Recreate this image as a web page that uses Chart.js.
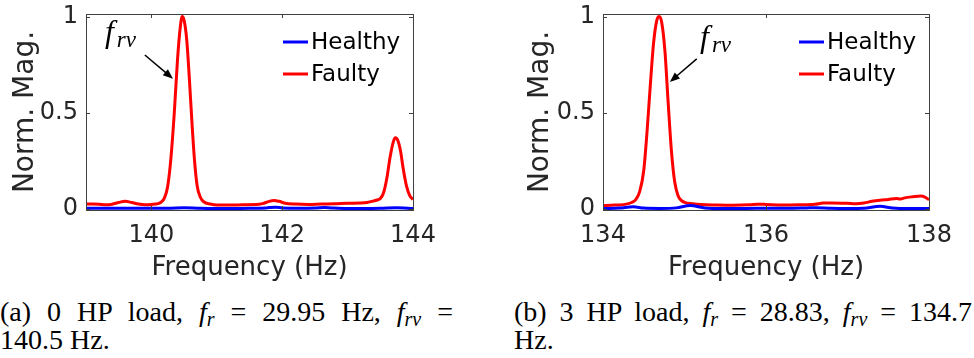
<!DOCTYPE html>
<html lang="en">
<head>
    <meta charset="UTF-8">
    <title>Rotor Vibration Spectra</title>
    <script src="https://cdn.jsdelivr.net/npm/chart.js@4.4.0/dist/chart.umd.min.js"></script>
    <style>
        body { margin: 0; background: #fff; width: 974px; height: 358px; position: relative; overflow: hidden; }
        canvas { position: absolute; top: 0; }
        #chartA { left: 0; }
        #chartB { left: 515px; }
        .caption { position: absolute; top: 298px; font-family: 'Liberation Serif', serif; font-size: 28px; line-height: 28px; color: #000; }
        .caption .first { text-align: justify; text-align-last: justify; }
        .caption sub { font-size: 20px; vertical-align: -5px; line-height: 0; }
        #capA { left: 0; width: 453px; }
        #capB { left: 514px; width: 458px; }
    </style>
</head>
<body>
    <canvas id="chartA" width="450" height="290"></canvas>
    <canvas id="chartB" width="459" height="290"></canvas>

    <div class="caption" id="capA">
        <div class="first">(a) 0 HP load, <i>f</i><sub><i>r</i></sub> = 29.95 Hz, <i>f</i><sub><i>rv</i></sub> =</div>
        <div>140.5 Hz.</div>
    </div>
    <div class="caption" id="capB">
        <div class="first">(b) 3 HP load, <i>f</i><sub><i>r</i></sub> = 28.83, <i>f</i><sub><i>rv</i></sub> = 134.7</div>
        <div>Hz.</div>
    </div>

    <script>
        // (a) 0 HP load
        var freqA = [139.00, 139.10, 139.20, 139.30, 139.40, 139.50, 139.60, 139.70, 139.80, 139.90,
            140.00, 140.10, 140.15, 140.20, 140.25, 140.30, 140.35, 140.40, 140.44, 140.47,
            140.50, 140.54, 140.58, 140.62, 140.66, 140.70, 140.75, 140.80, 140.90, 141.00,
            141.20, 141.40, 141.60, 141.70, 141.80, 141.88, 141.95, 142.05, 142.20, 142.40,
            142.60, 142.80, 143.00, 143.20, 143.30, 143.40, 143.45, 143.50, 143.55, 143.60,
            143.65, 143.70, 143.73, 143.77, 143.81, 143.85, 143.90, 143.95, 144.00];
        var faultyA = [0.026, 0.026, 0.025, 0.022, 0.025, 0.034, 0.040, 0.034, 0.026, 0.022,
            0.024, 0.028, 0.036, 0.058, 0.12, 0.27, 0.50, 0.78, 0.94, 1.00,
            0.98, 0.88, 0.68, 0.45, 0.25, 0.12, 0.06, 0.038, 0.026, 0.021,
            0.021, 0.022, 0.023, 0.028, 0.040, 0.044, 0.040, 0.030, 0.026, 0.024,
            0.026, 0.027, 0.030, 0.031, 0.034, 0.042, 0.047, 0.055, 0.085, 0.16,
            0.27, 0.35, 0.37, 0.355, 0.30, 0.21, 0.12, 0.07, 0.05];
        var healthyFreqA = [139.00, 139.25, 139.50, 139.75, 140.00, 140.25, 140.50, 140.75, 141.00, 141.25,
            141.50, 141.75, 141.90, 142.00, 142.25, 142.50, 142.65, 142.75, 143.00, 143.25,
            143.50, 143.75, 144.00];
        var healthyA = [0.004, 0.004, 0.004, 0.004, 0.004, 0.004, 0.007, 0.004, 0.003, 0.003,
            0.004, 0.006, 0.009, 0.006, 0.004, 0.005, 0.008, 0.006, 0.003, 0.003,
            0.004, 0.007, 0.003];
        var xTicksA = [140, 142, 144];

        // (b) 3 HP load
        var freqB = [134.00, 134.10, 134.20, 134.30, 134.35, 134.40, 134.45, 134.50, 134.54, 134.58,
            134.62, 134.66, 134.69, 134.72, 134.76, 134.80, 134.84, 134.88, 134.92, 134.96,
            135.00, 135.10, 135.20, 135.40, 135.60, 135.80, 135.90, 136.00, 136.20, 136.40,
            136.60, 136.70, 136.80, 137.00, 137.10, 137.20, 137.30, 137.40, 137.50, 137.60,
            137.65, 137.70, 137.80, 137.90, 137.95, 138.00];
        var faultyB = [0.017, 0.020, 0.021, 0.027, 0.034, 0.048, 0.09, 0.20, 0.40, 0.64,
            0.86, 0.98, 1.00, 0.97, 0.82, 0.55, 0.30, 0.14, 0.07, 0.045,
            0.035, 0.027, 0.023, 0.021, 0.020, 0.022, 0.025, 0.024, 0.021, 0.022,
            0.025, 0.031, 0.032, 0.030, 0.028, 0.031, 0.040, 0.046, 0.050, 0.055,
            0.052, 0.058, 0.064, 0.068, 0.062, 0.048];
        var healthyFreqB = [134.00, 134.20, 134.37, 134.50, 134.70, 134.90, 135.07, 135.25, 135.50, 135.75,
            136.00, 136.25, 136.50, 136.60, 136.80, 137.00, 137.20, 137.40, 137.55, 137.75,
            138.00];
        var healthyB = [0.003, 0.005, 0.012, 0.005, 0.003, 0.006, 0.018, 0.006, 0.003, 0.003,
            0.004, 0.004, 0.006, 0.007, 0.004, 0.003, 0.004, 0.014, 0.006, 0.003,
            0.003];
        var xTicksB = [134, 136, 138];

        var yTicks = [0, 0.5, 1];
        var seriesNames = ['Healthy', 'Faulty'];
        var seriesColors = ['#0000ff', '#ff0000'];

        function toPoints(xs, ys) {
            return xs.map(function (x, i) { return { x: x, y: ys[i] }; });
        }

        // box, inward ticks, legend and the f_rv arrow
        var decorations = {
            id: 'decorations',
            afterDraw: function (chart, args, opts) {
                var ctx = chart.ctx;
                var a = chart.chartArea;
                var xs = chart.scales.x, ys = chart.scales.y;
                ctx.save();

                ctx.strokeStyle = '#404040';
                ctx.lineWidth = 1;
                ctx.strokeRect(Math.round(a.left) + 0.5, Math.round(a.top) + 0.5,
                    Math.round(a.right - a.left), Math.round(a.bottom - a.top));

                ctx.beginPath();
                xs.ticks.forEach(function (t) {
                    var px = Math.round(xs.getPixelForValue(t.value)) + 0.5;
                    ctx.moveTo(px, a.bottom); ctx.lineTo(px, a.bottom - 4);
                    ctx.moveTo(px, a.top); ctx.lineTo(px, a.top + 4);
                });
                ys.ticks.forEach(function (t) {
                    var py = Math.round(ys.getPixelForValue(t.value)) + 0.5;
                    ctx.moveTo(a.left, py); ctx.lineTo(a.left + 4, py);
                    ctx.moveTo(a.right, py); ctx.lineTo(a.right - 4, py);
                });
                ctx.stroke();

                // legend inside the axes, top right
                ctx.font = '23px "DejaVu Sans"';
                ctx.textBaseline = 'middle';
                ctx.textAlign = 'left';
                chart.data.datasets.forEach(function (ds, i) {
                    var y = a.top + 28 + i * 32;
                    var x0 = a.right - 130;
                    ctx.strokeStyle = ds.borderColor;
                    ctx.lineWidth = 3;
                    ctx.beginPath();
                    ctx.moveTo(x0, y); ctx.lineTo(x0 + 25, y);
                    ctx.stroke();
                    ctx.fillStyle = '#000';
                    ctx.fillText(ds.label, x0 + 28, y + 1);
                });

                // f_rv label and arrow
                var n = opts.note;
                var lx = xs.getPixelForValue(n.label[0]), ly = ys.getPixelForValue(n.label[1]);
                ctx.fillStyle = '#000';
                ctx.textBaseline = 'alphabetic';
                ctx.font = 'italic 32px "Liberation Serif"';
                ctx.fillText('f', lx, ly);
                var fw = ctx.measureText('f').width;
                ctx.font = 'italic 23px "Liberation Serif"';
                ctx.fillText('rv', lx + fw + 3, ly + 5);

                var tx = xs.getPixelForValue(n.tail[0]), ty = ys.getPixelForValue(n.tail[1]);
                var hx = xs.getPixelForValue(n.head[0]), hy = ys.getPixelForValue(n.head[1]);
                var ang = Math.atan2(hy - ty, hx - tx);
                ctx.strokeStyle = '#000';
                ctx.lineWidth = 1.5;
                ctx.beginPath();
                ctx.moveTo(tx, ty);
                ctx.lineTo(hx - 6 * Math.cos(ang), hy - 6 * Math.sin(ang));
                ctx.stroke();
                ctx.beginPath();
                ctx.moveTo(hx, hy);
                ctx.lineTo(hx - 10 * Math.cos(ang) + 4 * Math.sin(ang), hy - 10 * Math.sin(ang) - 4 * Math.cos(ang));
                ctx.lineTo(hx - 10 * Math.cos(ang) - 4 * Math.sin(ang), hy - 10 * Math.sin(ang) + 4 * Math.cos(ang));
                ctx.closePath();
                ctx.fill();

                ctx.restore();
            }
        };

        function createChart(id, freq, faulty, hFreq, healthy, xMin, xMax, xTicks, yAxisWidth, rightPad, note) {
            var ctx = document.getElementById(id).getContext('2d');
            return new Chart(ctx, {
                type: 'line',
                data: {
                    datasets: [
                        {
                            label: seriesNames[0],
                            data: toPoints(hFreq, healthy),
                            borderColor: seriesColors[0],
                            borderWidth: 3,
                            pointRadius: 0,
                            cubicInterpolationMode: 'monotone'
                        },
                        {
                            label: seriesNames[1],
                            data: toPoints(freq, faulty),
                            borderColor: seriesColors[1],
                            borderWidth: 3,
                            pointRadius: 0,
                            cubicInterpolationMode: 'monotone'
                        }
                    ]
                },
                options: {
                    responsive: false,
                    animation: false,
                    layout: { padding: { top: 14, right: rightPad, left: 0, bottom: 0 } },
                    plugins: {
                        legend: { display: false },
                        tooltip: { enabled: false },
                        decorations: { note: note }
                    },
                    scales: {
                        x: {
                            type: 'linear',
                            min: xMin,
                            max: xMax,
                            grid: { display: false, drawTicks: false },
                            border: { display: false },
                            afterBuildTicks: function (s) { s.ticks = xTicks.map(function (v) { return { value: v }; }); },
                            afterFit: function (s) { s.height = 80; s.paddingLeft = 0; s.paddingRight = 0; },
                            ticks: { padding: 11, color: '#262626', font: { family: 'DejaVu Sans', size: 24 } },
                            title: {
                                display: true,
                                text: 'Frequency (Hz)',
                                color: '#262626',
                                font: { family: 'DejaVu Sans', size: 26 },
                                padding: { top: 0, bottom: 6 }
                            }
                        },
                        y: {
                            min: -0.005,
                            max: 1.013,
                            grid: { display: false, drawTicks: false },
                            border: { display: false },
                            afterBuildTicks: function (s) { s.ticks = yTicks.map(function (v) { return { value: v }; }); },
                            afterFit: function (s) { s.width = yAxisWidth; s.paddingTop = 0; s.paddingBottom = 0; },
                            ticks: {
                                padding: 8,
                                color: '#262626',
                                font: { family: 'DejaVu Sans', size: 24 },
                                callback: function (v) { return String(v); }
                            },
                            title: {
                                display: true,
                                text: 'Norm. Mag.',
                                color: '#262626',
                                font: { family: 'DejaVu Sans', size: 28 },
                                padding: { top: 9, bottom: 0 }
                            }
                        }
                    }
                },
                plugins: [decorations]
            });
        }

        createChart('chartA', freqA, faultyA, healthyFreqA, healthyA, 139, 144, xTicksA, 86, 37,
            { label: [139.29, 0.865], tail: [139.90, 0.80], head: [140.33, 0.677] });
        createChart('chartB', freqB, faultyB, healthyFreqB, healthyB, 134, 138, xTicksB, 88, 45,
            { label: [135.19, 0.84], tail: [135.15, 0.78], head: [134.82, 0.66] });
    </script>
</body>
</html>
